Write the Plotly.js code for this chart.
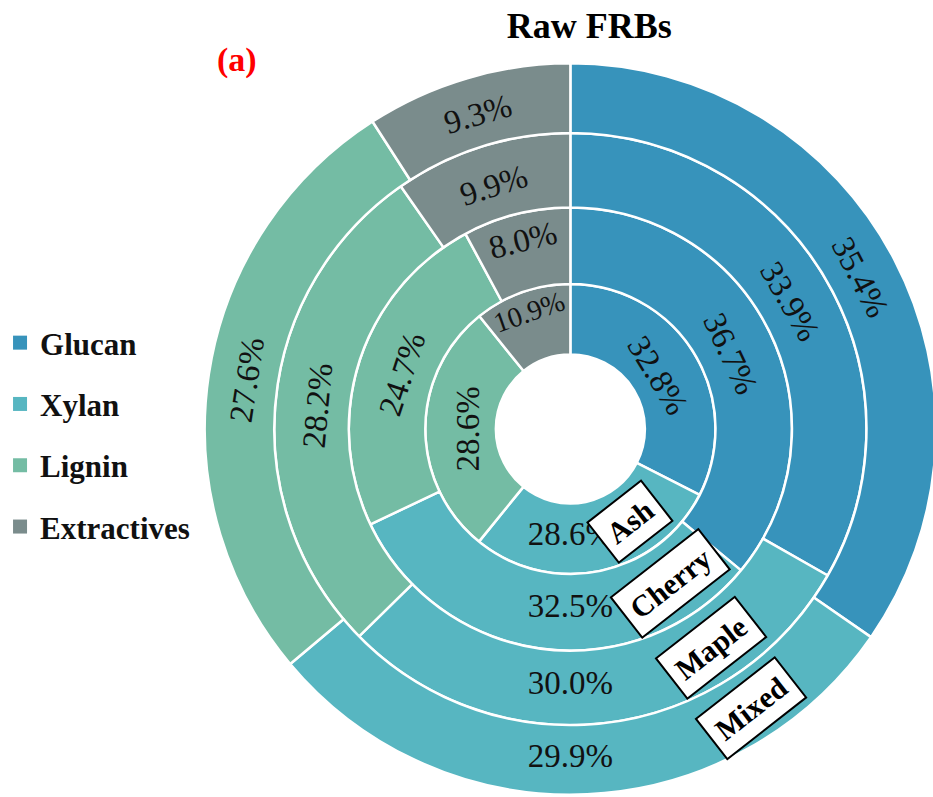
<!DOCTYPE html>
<html>
<head>
<meta charset="utf-8">
<script src="https://cdn.plot.ly/plotly-3.0.1.min.js"></script>
<style>
html,body{margin:0;padding:0;overflow:hidden;background:#fff;}
#chart{width:940px;height:797px;}
</style>
</head>
<body>
<div id="chart"></div>
<script>
// ---- data ----
const rings = ['Ash', 'Cherry', 'Maple', 'Mixed'];
const components = ['Glucan', 'Xylan', 'Lignin', 'Extractives'];
const glucan = [32.8, 36.7, 33.9, 35.4];
const xylan = [28.6, 32.5, 30.0, 29.9];
const lignin = [28.6, 24.7, 28.2, 27.6];
const extractives = [10.9, 8.0, 9.9, 9.3];
const colors = ['#3793bb', '#57b6c1', '#74bca4', '#7a8c8c'];

// ---- layout constants (pixels) ----
const W = 940, H = 797, CX = 568, CY = 429;
const radii = [75, 146, 223, 298, 368];
const FONT = 'Liberation Serif';

const traces = [];
rings.forEach((ring, i) => {
  const rIn = radii[i], rOut = radii[i + 1];
  const vals = [glucan[i], xylan[i], lignin[i], extractives[i]];
  traces.push({
    type: 'pie',
    name: ring,
    labels: components,
    values: vals,
    text: vals.map(v => v.toFixed(1) + '%'),
    textinfo: 'text',
    textposition: 'inside',
    insidetextorientation: 'tangential',
    textfont: {family: FONT, size: 33, color: '#111'},
    insidetextfont: {family: FONT, size: 33, color: '#111'},
    sort: false,
    direction: 'clockwise',
    rotation: 0,
    hole: rIn / rOut,
    marker: {colors: colors, line: {color: '#ffffff', width: 2.5}},
    domain: {
      x: [Math.max(0, (CX - rOut) / W), Math.min(1, (CX + rOut) / W)],
      y: [Math.max(0, (H - CY - rOut) / H), Math.min(1, (H - CY + rOut) / H)]
    },
    showlegend: false,
    hoverinfo: 'label'
  });
});

// legend entries
components.forEach((c, k) => {
  traces.push({
    type: 'scatter', mode: 'markers', x: [null], y: [null],
    name: c, legendgroup: c,
    marker: {symbol: 'square', size: 14, color: colors[k], line: {width: 0}},
    showlegend: true, hoverinfo: 'skip'
  });
});

// ring label annotations along a ray
const labelAngle = 147 * Math.PI / 180;
const annotations = rings.map((ring, i) => {
  const rm = (radii[i] + radii[i + 1]) / 2;
  const px = CX + rm * Math.sin(labelAngle);
  const py = CY - rm * Math.cos(labelAngle);
  return {
    text: '<b>' + ring + '</b>', xref: 'paper', yref: 'paper',
    x: px / W, y: 1 - py / H, xanchor: 'center', yanchor: 'middle',
    showarrow: false, textangle: -38,
    font: {family: FONT, size: 30, color: '#000'},
    bgcolor: '#ffffff', bordercolor: '#000000', borderwidth: 2, borderpad: 8
  };
});
annotations.push({
  text: '<b>(a)</b>', xref: 'paper', yref: 'paper',
  x: 232 / W, y: 1 - 60 / H, xanchor: 'center', yanchor: 'middle',
  showarrow: false, font: {family: FONT, size: 34, color: '#ff0000'}
});

const layout = {
  width: W, height: H,
  margin: {l: 0, r: 0, t: 0, b: 0},
  font: {family: FONT},
  paper_bgcolor: '#ffffff', plot_bgcolor: '#ffffff',
  title: {
    text: '<b>Raw FRBs</b>', x: 587 / W, xanchor: 'center',
    xref: 'paper', yref: 'container', y: 1 - 25 / H, yanchor: 'middle',
    font: {family: FONT, size: 36, color: '#000'}
  },
  xaxis: {visible: false}, yaxis: {visible: false},
  showlegend: true,
  legend: {
    x: -6 / W, xanchor: 'left', y: 1 - 435 / H, yanchor: 'middle',
    font: {family: FONT, size: 31, color: '#111', weight: 'bold'},
    tracegroupgap: 18, bgcolor: 'rgba(0,0,0,0)', traceorder: 'grouped'
  },
  annotations: annotations
};

Plotly.newPlot('chart', traces, layout, {displayModeBar: false, staticPlot: true});
</script>
</body>
</html>
